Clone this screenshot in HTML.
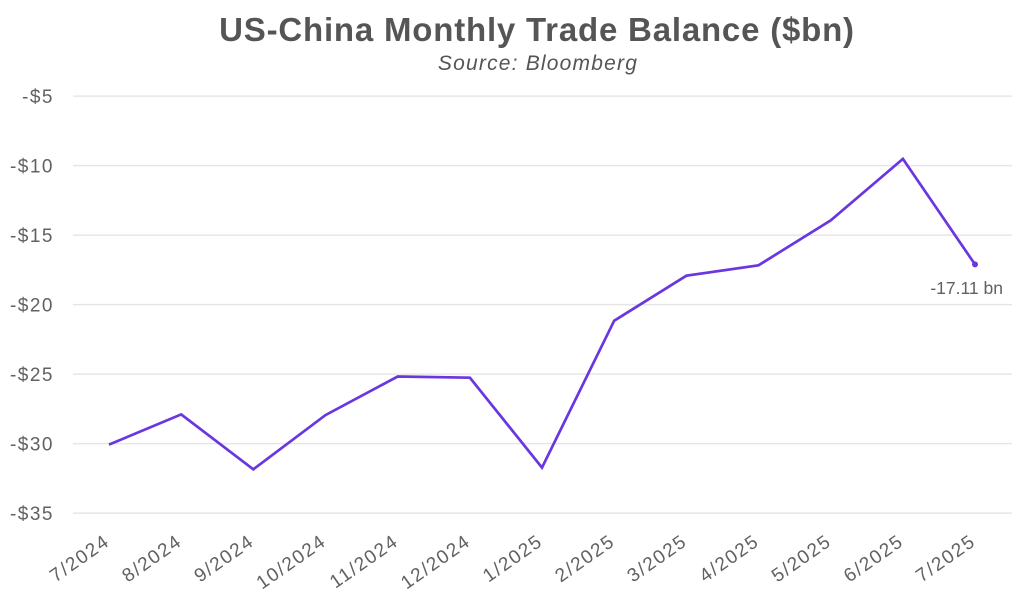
<!DOCTYPE html>
<html>
<head>
<meta charset="utf-8">
<style>
html,body{margin:0;padding:0;background:#fff;}
svg{display:block;}
text{font-family:"Liberation Sans",sans-serif;}
</style>
</head>
<body>
<svg width="1024" height="600" viewBox="0 0 1024 600" xmlns="http://www.w3.org/2000/svg">
<rect width="1024" height="600" fill="#fff"/>
<text x="537" y="41" text-anchor="middle" font-size="33" font-weight="bold" fill="#555" letter-spacing="0.8">US-China Monthly Trade Balance ($bn)</text>
<text x="538" y="70" text-anchor="middle" font-size="21" font-style="italic" fill="#555" letter-spacing="1.2">Source: Bloomberg</text>
<g stroke="#e6e6e6" stroke-width="1.5">
<line x1="73" y1="96.1" x2="1012" y2="96.1"/>
<line x1="73" y1="165.6" x2="1012" y2="165.6"/>
<line x1="73" y1="235.1" x2="1012" y2="235.1"/>
<line x1="73" y1="304.6" x2="1012" y2="304.6"/>
<line x1="73" y1="374.1" x2="1012" y2="374.1"/>
<line x1="73" y1="443.6" x2="1012" y2="443.6"/>
<line x1="73" y1="513.1" x2="1012" y2="513.1"/>
</g>
<g font-size="19" fill="#616161" text-anchor="end" letter-spacing="1.5">
<text x="54" y="102.8">-$5</text>
<text x="54" y="172.3">-$10</text>
<text x="54" y="241.8">-$15</text>
<text x="54" y="311.3">-$20</text>
<text x="54" y="380.8">-$25</text>
<text x="54" y="450.3">-$30</text>
<text x="54" y="519.8">-$35</text>
</g>
<g font-size="19" fill="#616161" text-anchor="end" letter-spacing="1.6">
<text transform="translate(111,544) rotate(-35)">7/2024</text>
<text transform="translate(183.2,544) rotate(-35)">8/2024</text>
<text transform="translate(255.3,544) rotate(-35)">9/2024</text>
<text transform="translate(327.5,544) rotate(-35)">10/2024</text>
<text transform="translate(399.7,544) rotate(-35)">11/2024</text>
<text transform="translate(471.9,544) rotate(-35)">12/2024</text>
<text transform="translate(544,544) rotate(-35)">1/2025</text>
<text transform="translate(616.2,544) rotate(-35)">2/2025</text>
<text transform="translate(688.4,544) rotate(-35)">3/2025</text>
<text transform="translate(760.5,544) rotate(-35)">4/2025</text>
<text transform="translate(832.7,544) rotate(-35)">5/2025</text>
<text transform="translate(904.9,544) rotate(-35)">6/2025</text>
<text transform="translate(977,544) rotate(-35)">7/2025</text>
</g>
<polyline fill="none" stroke="#6a36e0" stroke-width="2.7" stroke-linejoin="miter" points="109,444.6 181.2,414.4 253.3,469.3 325.5,415.1 397.7,376.5 469.9,377.7 542,467.6 614.2,320.7 686.4,275.7 758.5,265.3 830.7,220.4 902.9,158.9 975,264.4"/>
<circle cx="975" cy="264.4" r="3" fill="#6a36e0"/>
<text x="1003" y="294" text-anchor="end" font-size="17.5" fill="#616161">-17.11 bn</text>
</svg>
</body>
</html>
